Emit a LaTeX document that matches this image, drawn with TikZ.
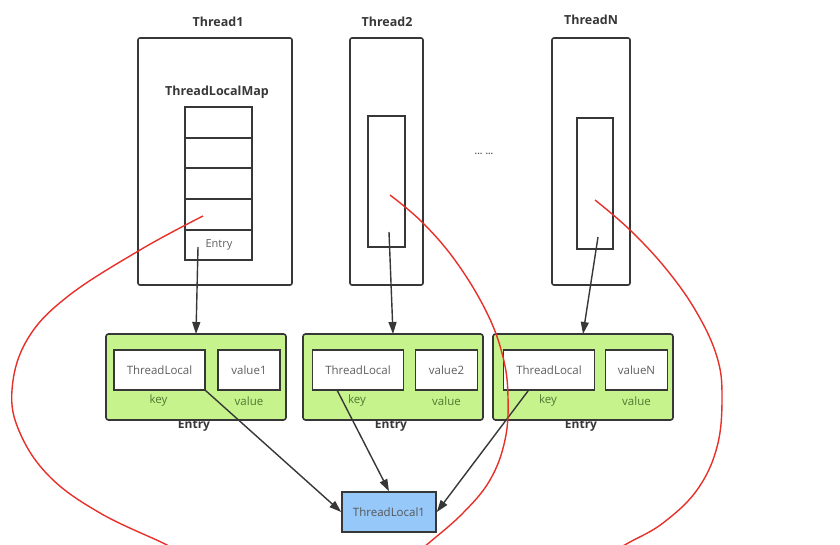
\documentclass[tikz,border=0pt]{standalone}
\usepackage{fontspec}
\setmainfont{Open Sans}
\usetikzlibrary{arrows.meta,calc}
\definecolor{dk}{RGB}{55,55,55}
\definecolor{txt}{RGB}{95,95,95}
\definecolor{entryfill}{RGB}{198,243,140}
\definecolor{keytxt}{RGB}{80,120,50}
\definecolor{tlblue}{RGB}{150,200,250}
\definecolor{redline}{RGB}{232,48,42}
\tikzset{
  threadbox/.style={draw=dk,line width=1.6pt,rounded corners=2pt,inner sep=0pt,outer sep=0pt},
  plainbox/.style={draw=dk,line width=1.6pt,fill=white,inner sep=0pt,outer sep=0pt},
  cellbox/.style={draw=dk,line width=1.6pt,inner sep=0pt,outer sep=0pt},
  entrybox/.style={draw=dk,line width=1.6pt,fill=entryfill,rounded corners=2.5pt,inner sep=0pt,outer sep=0pt},
  title/.style={font=\fontsize{12.5}{14}\selectfont\bfseries,text=dk},
  small/.style={font=\fontsize{11.5}{13}\selectfont,text=txt},
  lbl/.style={font=\fontsize{11.5}{13}\selectfont,text=keytxt},
  arr/.style={draw=dk,line width=1.4pt,-{Triangle[length=12pt,width=8pt]}},
  redc/.style={draw=redline,line width=1.4pt},
}
\begin{document}
\begin{tikzpicture}[x=1pt,y=-1pt]
\clip (0,0) rectangle (840,544);
\fill[white] (0,0) rectangle (840,544);

% Threads
\node[threadbox,minimum width=154pt,minimum height=247pt] (t1) at (215,161.5) {};
\node[threadbox,minimum width=73pt,minimum height=247pt] (t2) at (386.5,161.5) {};
\node[threadbox,minimum width=78pt,minimum height=247pt] (tn) at (591,161.5) {};
\node[title] (t1l) at (218,22) {Thread1};
\node[title] (t2l) at (387,22) {Thread2};
\node[title] (tnl) at (591,20) {ThreadN};
\node[title] (mapl) at (217,92) {ThreadLocalMap};

% map cells
\foreach \i/\cy/\h in {1/122.5/31, 2/153/30, 3/183.5/31, 4/214.5/31, 5/245/30}{
  \node[cellbox,minimum width=67pt,minimum height=\h pt] (c\i) at (218.5,\cy) {};
}
\node[small,font=\fontsize{11}{12}\selectfont] (entryt) at (219,245) {Entry};

% inner boxes
\node[plainbox,minimum width=37pt,minimum height=131pt] (i2) at (386.5,181.5) {};
\node[plainbox,minimum width=36pt,minimum height=131pt] (in) at (595,183.5) {};

\node[text=txt,font=\fontsize{9}{10}\selectfont] (dots) at (484,154) {\textbf{... ...}};

% Entries
\foreach \n/\cx/\kx/\vx/\v in {1/196/159.5/249/value1, 2/393/358/446.5/value2, N/583/549/636.5/valueN}{
  \node[entrybox,minimum width=180pt,minimum height=86pt] (e\n) at (\cx,377) {};
  \node[plainbox,minimum width=91pt,minimum height=40pt,small] (k\n) at (\kx,370) {ThreadLocal};
  \node[plainbox,minimum width=62pt,minimum height=40pt,small] (v\n) at (\vx,370) {\v};
  \node[lbl] (kl\n) at ($(k\n.south)+(-1,11)$) {key};
  \node[lbl] (vl\n) at ($(v\n.south)+(0,11)$) {value};
  \node[title,font=\fontsize{12}{13}\selectfont\bfseries] (el\n) at (\cx-2,426) {Entry};
}

% ThreadLocal1
\node[draw=dk,line width=1.6pt,fill=tlblue,minimum width=94pt,minimum height=40pt,inner sep=0pt,small,text=dk!85] (tl1) at (389,512) {ThreadLocal1};

% arrows down
\coordinate (s1) at (198,247);
\coordinate (s2) at (389,232);
\coordinate (sn) at (598,237);
\draw[arr] (s1) -- (e1.north);
\draw[arr] (s2) -- (e2.north);
\draw[arr] (sn) -- (eN.north);

% arrows to ThreadLocal1
\coordinate (a2) at (337,390);
\coordinate (an) at (528,391);
\draw[arr] (k1.south east) -- (tl1.west);
\draw[arr] (a2) -- (tl1.north);
\draw[arr] (an) -- (tl1.east);

% red curves
\draw[redc] plot[smooth,tension=0.65] coordinates {(203,216) (140,250) (67,297) (27,340) (12,390) (20,433) (50,477) (100,513) (163,543) (175,550)};
\draw[redc] plot[smooth,tension=0.65] coordinates {(390,195) (423,223) (457,263) (487,313) (503,357) (508,397) (505,440) (490,480) (463,513) (430,542) (420,550)};
\draw[redc] plot[smooth,tension=0.65] coordinates {(595,200) (630,230) (667,270) (697,313) (717,357) (722,397) (717,447) (697,490) (663,523) (630,542) (615,550)};
\end{tikzpicture}
\end{document}
